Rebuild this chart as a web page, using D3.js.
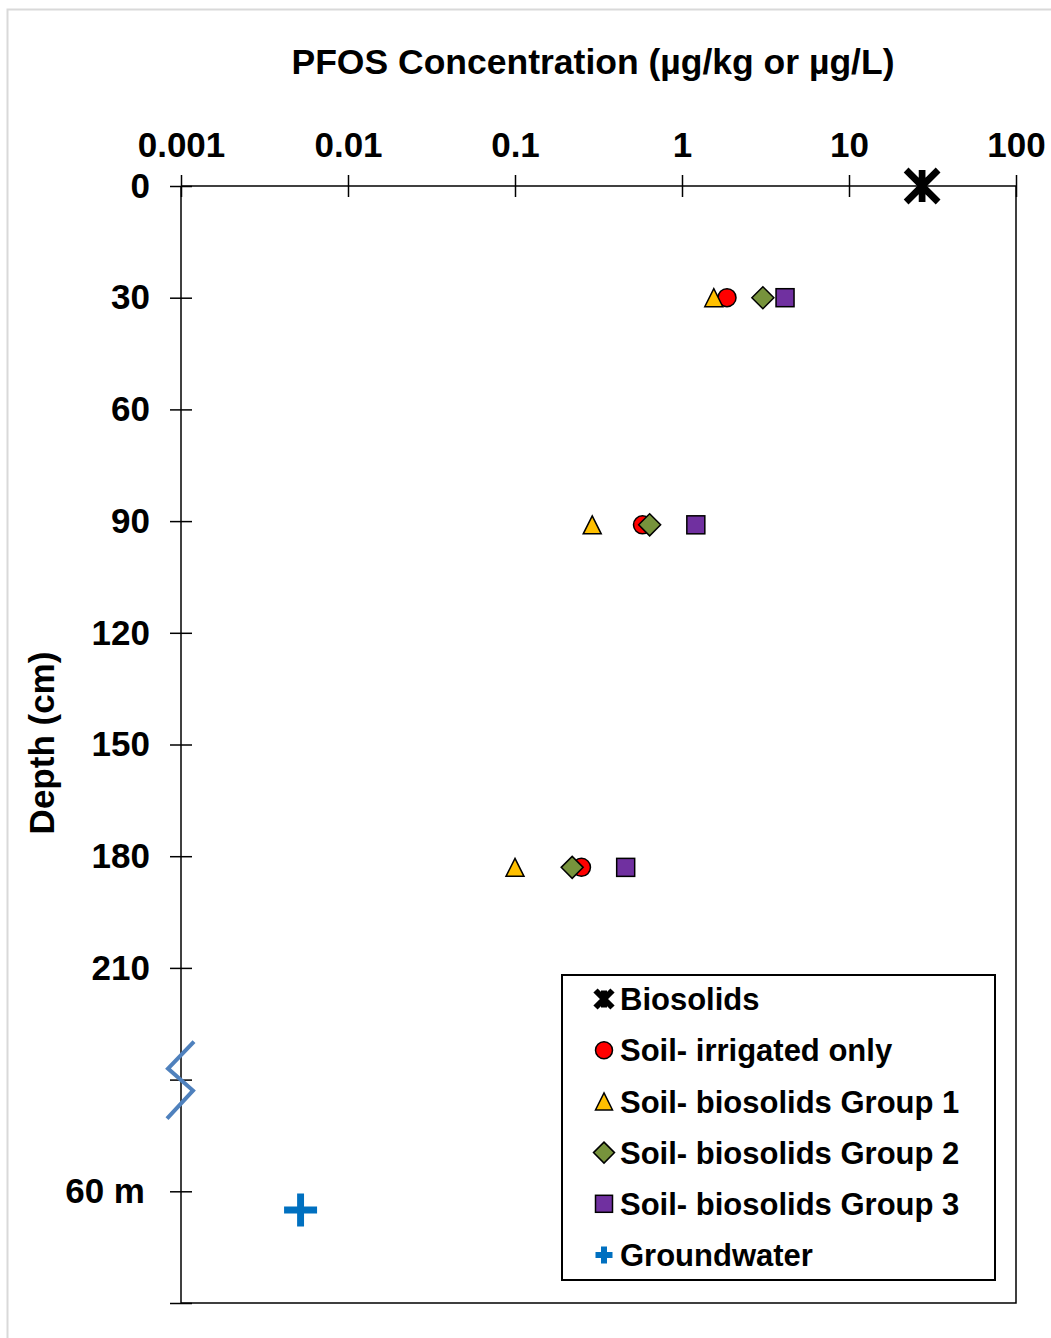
<!DOCTYPE html>
<html>
<head>
<meta charset="utf-8">
<script src="https://cdn.jsdelivr.net/npm/d3@7"></script>
<style>
body { margin: 0; background: #fff; }
text { font-family: "Liberation Sans", Arial, sans-serif; font-weight: bold; fill: #000; }
</style>
</head>
<body>
<svg id="chart" width="1051" height="1338"></svg>
<script>
// data
var seriesNames = ['Biosolids', 'Soil- irrigated only', 'Soil- biosolids Group 1',
	'Soil- biosolids Group 2', 'Soil- biosolids Group 3', 'Groundwater'];
var biosolidsConc = [27.4];
var biosolidsDepth = [0];
var soilDepth = [30, 91, 183];
var irrigatedConc = [1.86, 0.58, 0.25];
var group1Conc = [1.55, 0.29, 0.10];
var group2Conc = [3.05, 0.64, 0.22];
var group3Conc = [4.14, 1.21, 0.46];
var groundwaterConc = [0.0052];
var groundwaterDepth = [275];
var xTicks = [0.001, 0.01, 0.1, 1, 10, 100];
var xTickLabels = ['0.001', '0.01', '0.1', '1', '10', '100'];
var yTicks = [0, 30, 60, 90, 120, 150, 180, 210, 240, 270, 300];
var yTickLabels = ['0', '30', '60', '90', '120', '150', '180', '210', '', '60 m', ''];

var svg = d3.select('#chart');
var margin = {left: 181, right: 1016, top: 186, bottom: 1303};

var x = d3.scaleLog().domain([0.001, 100]).range([margin.left, margin.right]);
var y = d3.scaleLinear().domain([0, 300]).range([margin.top, margin.bottom]);

// outer frame (light grey)
svg.append('rect')
	.attr('x', 7.5).attr('y', 9.5)
	.attr('width', 1060).attr('height', 1340)
	.attr('fill', 'none').attr('stroke', '#d9d9d9').attr('stroke-width', 2);

// right and bottom plot edges
svg.append('path')
	.attr('d', 'M' + margin.right + ',' + margin.top + 'V' + margin.bottom + 'H' + margin.left)
	.attr('fill', 'none').attr('stroke', '#000').attr('stroke-width', 1.5);

var xAxis = svg.append('g')
	.attr('transform', 'translate(0,' + margin.top + ')')
	.call(d3.axisTop(x).tickValues(xTicks).tickSize(11).tickPadding(18)
		.tickFormat(function(d, i) { return xTickLabels[i]; }));

var yAxis = svg.append('g')
	.attr('transform', 'translate(' + margin.left + ',0)')
	.call(d3.axisLeft(y).tickValues(yTicks).tickSize(11).tickPadding(20)
		.tickFormat(function(d, i) { return yTickLabels[i]; }));

[xAxis, yAxis].forEach(function(ax) {
	ax.select('.domain').attr('stroke', '#000').attr('stroke-width', 1.5);
	ax.selectAll('.tick line').attr('stroke', '#000').attr('stroke-width', 1.5);
	ax.selectAll('.tick text').attr('font-size', 35).attr('font-family', null).attr('fill', '#000');
});
// ticks cross the axis line
xAxis.selectAll('.tick line').attr('y1', 11).attr('y2', -11);
yAxis.selectAll('.tick line').attr('x1', 11).attr('x2', -11);
xAxis.select('.domain').attr('d', 'M' + margin.left + ',0H' + margin.right);
yAxis.select('.domain').attr('d', 'M0,' + margin.top + 'V' + margin.bottom);
yAxis.selectAll('.tick text').filter(function(d) { return d == 270; }).attr('x', -36);

// axis titles
svg.append('text')
	.attr('x', 593).attr('y', 74)
	.attr('text-anchor', 'middle').attr('font-size', 35.5)
	.text('PFOS Concentration (\u00b5g/kg or \u00b5g/L)');
svg.append('text')
	.attr('transform', 'translate(54,743) rotate(-90)')
	.attr('text-anchor', 'middle').attr('font-size', 35)
	.text('Depth (cm)');

// axis break marker
var by = y(240), bx = margin.left;
svg.append('path')
	.attr('d', d3.line()([[bx + 13, by - 38], [bx - 13, by - 11], [bx + 12, by + 11], [bx - 14, by + 39]]))
	.attr('fill', 'none').attr('stroke', '#4f81bd').attr('stroke-width', 4);

// marker shapes
function drawMarker(g, type, s) {
	if (type == 'star') {
		var a = s * 0.5;
		g.append('path')
			.attr('d', 'M' + (-a) + ',' + (-a) + 'L' + a + ',' + a + 'M' + a + ',' + (-a) + 'L' + (-a) + ',' + a + 'M0,' + (-a) + 'V' + a)
			.attr('stroke', '#000').attr('stroke-width', Math.max(6, s * 0.21)).attr('fill', 'none');
	} else if (type == 'plus') {
		var p = s * 0.5;
		g.append('path')
			.attr('d', 'M' + (-p) + ',0H' + p + 'M0,' + (-p) + 'V' + p)
			.attr('stroke', '#0070c0').attr('stroke-width', Math.max(6, s * 0.21)).attr('fill', 'none');
	} else if (type == 'circle') {
		g.append('circle').attr('r', s / 2)
			.attr('fill', '#ff0000').attr('stroke', '#000').attr('stroke-width', 1.5);
	} else if (type == 'triangle') {
		var h = s / 2;
		g.append('path').attr('d', 'M0,' + (-h) + 'L' + h + ',' + h + 'L' + (-h) + ',' + h + 'Z')
			.attr('fill', '#ffc000').attr('stroke', '#000').attr('stroke-width', 1.5);
	} else if (type == 'diamond') {
		var d = s / 2 + 2;
		g.append('path').attr('d', 'M0,' + (-d) + 'L' + d + ',0L0,' + d + 'L' + (-d) + ',0Z')
			.attr('fill', '#77933c').attr('stroke', '#000').attr('stroke-width', 1.5);
	} else if (type == 'square') {
		var q = s / 2;
		g.append('rect').attr('x', -q).attr('y', -q).attr('width', s).attr('height', s)
			.attr('fill', '#7030a0').attr('stroke', '#000').attr('stroke-width', 1.5);
	}
}

var series = [
	{type: 'star', size: 32, conc: biosolidsConc, depth: biosolidsDepth},
	{type: 'circle', size: 18, conc: irrigatedConc, depth: soilDepth},
	{type: 'triangle', size: 18, conc: group1Conc, depth: soilDepth},
	{type: 'diamond', size: 18, conc: group2Conc, depth: soilDepth},
	{type: 'square', size: 18, conc: group3Conc, depth: soilDepth},
	{type: 'plus', size: 33, conc: groundwaterConc, depth: groundwaterDepth}
];

series.forEach(function(s) {
	s.conc.forEach(function(c, i) {
		var g = svg.append('g')
			.attr('transform', 'translate(' + x(c) + ',' + y(s.depth[i]) + ')');
		drawMarker(g, s.type, s.size);
	});
});

// legend
var legend = svg.append('g');
legend.append('rect')
	.attr('x', 562).attr('y', 975).attr('width', 433).attr('height', 305)
	.attr('fill', '#fff').attr('stroke', '#000').attr('stroke-width', 2);
series.forEach(function(s, i) {
	var ly = 999 + i * 51.2;
	var g = legend.append('g').attr('transform', 'translate(604,' + ly + ')');
	drawMarker(g, s.type, s.type == 'star' || s.type == 'plus' ? 17 : 17);
	legend.append('text')
		.attr('x', 620).attr('y', ly).attr('dy', '0.36em')
		.attr('font-size', 31)
		.text(seriesNames[i]);
});
</script>
</body>
</html>
